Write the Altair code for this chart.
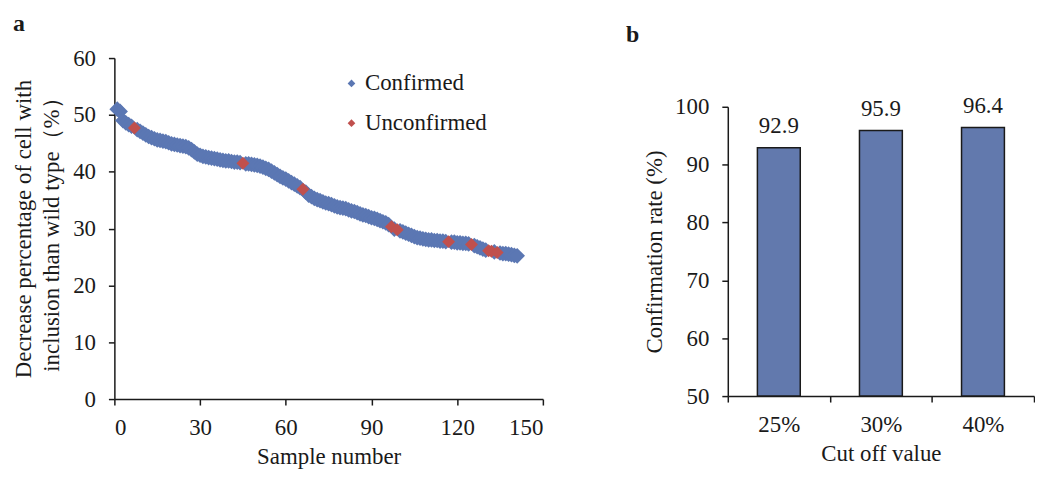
import altair as alt
import pandas as pd

# ---------------- data ----------------
sample_numbers = list(range(1, 142))
sample_values = [
    51.0, 50.6, 49.0, 48.6, 48.3, 48.0, 47.7, 47.4, 47.1, 46.8,
    46.5, 46.2, 46.0, 45.8, 45.6, 45.5, 45.4, 45.3, 45.1, 44.9,
    44.8, 44.7, 44.6, 44.5, 44.4, 44.2, 43.9, 43.5, 43.1, 42.9,
    42.7, 42.6, 42.5, 42.4, 42.3, 42.2, 42.1, 42.0, 41.9, 41.9,
    41.8, 41.7, 41.7, 41.6, 41.5, 41.4, 41.4, 41.3, 41.2, 41.1,
    41.0, 40.8, 40.6, 40.4, 40.1, 39.8, 39.5, 39.2, 38.9, 38.7,
    38.4, 38.1, 37.8, 37.5, 37.2, 36.9, 36.4, 35.9, 35.6, 35.3,
    35.1, 34.9, 34.7, 34.5, 34.4, 34.2, 34.0, 33.8, 33.7, 33.6,
    33.5, 33.3, 33.1, 33.0, 32.8, 32.6, 32.4, 32.3, 32.1, 31.9,
    31.8, 31.6, 31.4, 31.2, 31.0, 30.7, 30.3, 29.9, 29.8, 29.6,
    29.4, 29.2, 29.0, 28.8, 28.6, 28.4, 28.3, 28.2, 28.1, 28.0,
    28.0, 27.9, 27.9, 27.8, 27.8, 27.7, 27.7, 27.6, 27.6, 27.5,
    27.5, 27.4, 27.4, 27.3, 27.2, 27.0, 26.8, 26.6, 26.4, 26.2,
    26.1, 26.0, 25.9, 25.8, 25.7, 25.6, 25.6, 25.5, 25.4, 25.3,
    25.2,
]
unconfirmed_samples = [7, 45, 66, 97, 99, 117, 125, 131, 132, 134]
status_names = ["Confirmed", "Unconfirmed"]

cutoff_labels = ["25%", "30%", "40%"]
confirmation_rates = [92.9, 95.9, 96.4]

# ---------------- style ----------------
FONT = "Liberation Serif"
BLUE = "#5B77B3"
RED = "#C0504D"
BAR = "#6279AD"
INK = "#1a1a1a"

df_a = pd.DataFrame({"sample": sample_numbers, "value": sample_values})
df_a["status"] = [status_names[1] if s in unconfirmed_samples else status_names[0]
                  for s in sample_numbers]

color = alt.Color(
    "status:N",
    scale=alt.Scale(domain=status_names, range=[BLUE, RED]),
    legend=alt.Legend(
        title=None, orient="none", legendX=227, legendY=14,
        symbolType="diamond", symbolSize=60, symbolStrokeWidth=0,
        labelFontSize=23, labelFont=FONT, labelColor=INK,
        rowPadding=16, labelOffset=2, padding=0,
    ),
)

xa = alt.X(
    "sample:Q",
    scale=alt.Scale(domain=[0, 150], nice=False),
    axis=alt.Axis(values=[0, 30, 60, 90, 120, 150], title="Sample number",
                  labelPadding=12, titlePadding=6),
)
ya = alt.Y(
    "value:Q",
    scale=alt.Scale(domain=[0, 60], nice=False),
    axis=alt.Axis(values=[0, 10, 20, 30, 40, 50, 60],
                  title=["Decrease percentage of cell with", "inclusion than wild type（%）"],
                  titleLineHeight=28, labelPadding=13, titlePadding=9),
)

base_a = alt.Chart(df_a)
conf = base_a.transform_filter(alt.datum.status == "Confirmed").mark_point(
    shape="diamond", filled=True, opacity=1, size=250
).encode(x=xa, y=ya, color=color)
unconf = base_a.transform_filter(alt.datum.status == "Unconfirmed").mark_point(
    shape="diamond", filled=True, opacity=1, size=170
).encode(x=xa, y=ya, color=color)

panel_a = alt.layer(conf, unconf).properties(
    width=431, height=343,
    title=alt.TitleParams("a", anchor="start", frame="bounds", fontSize=24,
                          fontWeight="bold", font=FONT, color=INK, offset=11),
)

df_b = pd.DataFrame({"cutoff": cutoff_labels, "rate": confirmation_rates})
xb = alt.X(
    "cutoff:N", sort=cutoff_labels,
    scale=alt.Scale(paddingInner=0, paddingOuter=0),
    axis=alt.Axis(labelAngle=0, tickBand="extent", title="Cut off value",
                  labelPadding=12, titlePadding=6),
)
yb = alt.Y(
    "rate:Q",
    scale=alt.Scale(domain=[50, 100], range=[340, 49], nice=False, zero=False),
    axis=alt.Axis(values=[50, 60, 70, 80, 90, 100], title="Confirmation rate (%)",
                  labelPadding=13, titlePadding=8),
)
bars = alt.Chart(df_b).mark_bar(
    width=alt.RelativeBandSize(0.42), color=BAR, stroke=INK, strokeWidth=1.5
).encode(x=xb, y=yb, y2=alt.datum(50))
labels = alt.Chart(df_b).mark_text(
    dy=-15, baseline="alphabetic", fontSize=23, font=FONT, color=INK
).encode(x=xb, y=yb, text=alt.Text("rate:Q", format=".1f"))

panel_b = alt.layer(bars, labels).properties(
    width=308, height=340,
    title=alt.TitleParams("b", anchor="start", frame="bounds", fontSize=24,
                          fontWeight="bold", font=FONT, color=INK, offset=11, dx=-18),
)

chart = (
    alt.hconcat(panel_a, panel_b, spacing=82)
    .properties(padding={"left": 5, "top": 3, "right": 0, "bottom": 0})
    .configure(font=FONT)
    .configure_view(stroke=None)
    .configure_axis(
        grid=False, domainColor=INK, domainWidth=1.5, tickColor=INK, tickWidth=1.5,
        tickSize=6, labelFontSize=23, labelColor=INK, labelFont=FONT,
        titleFontSize=23, titleFontWeight="normal", titleColor=INK, titleFont=FONT,
    )
)

chart.save("out.html", embed_options={"renderer": "svg", "actions": False})
